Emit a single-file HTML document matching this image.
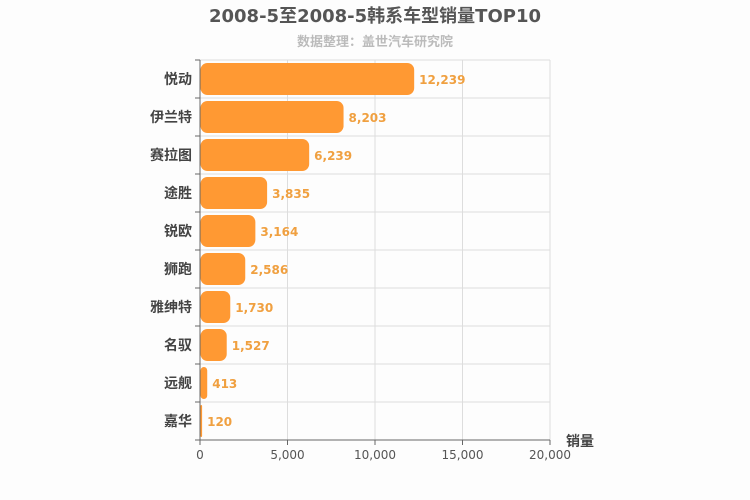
<!DOCTYPE html>
<html><head><meta charset="utf-8"><style>
body{margin:0;background:#fdfdfd;}
svg{display:block;font-family:"DejaVu Sans","Liberation Sans","Noto Sans CJK SC",sans-serif;}
</style></head><body>
<svg id="c" width="750" height="500">
<rect width="750" height="500" fill="#fdfdfd"/>
<text x="375" y="22" text-anchor="middle" font-size="18" font-weight="bold" fill="#555">2008-5至2008-5韩系车型销量TOP10</text>
<text x="375" y="46" text-anchor="middle" font-size="13" font-weight="bold" fill="#bbb">数据整理：盖世汽车研究院</text>
<text x="580" y="446" text-anchor="middle" font-size="14" font-weight="bold" fill="#444">销量</text>
</svg>
<script>
const categories=["悦动","伊兰特","赛拉图","途胜","锐欧","狮跑","雅绅特","名驭","远舰","嘉华"];
const values=[12239,8203,6239,3835,3164,2586,1730,1527,413,120];
const ticks=[0,5000,10000,15000,20000];
const svg=document.getElementById('c');const NS='http://www.w3.org/2000/svg';
const X0=200,X1=550,Y0=60,Y1=440,MAX=20000;
const x=v=>X0+(v/MAX)*(X1-X0);
const rowH=(Y1-Y0)/categories.length;
const y=i=>Y0+i*rowH;
function mk(t,a){const e=document.createElementNS(NS,t);for(const k in a)e.setAttribute(k,a[k]);svg.appendChild(e);return e;}
for(let i=0;i<=categories.length;i++){const g=mk('line',{x1:X0,x2:X1,y1:y(i),y2:y(i),stroke:'#ddd'});

}
ticks.forEach(t=>{if(t>0){const g=mk('line',{x1:x(t),x2:x(t),y1:Y0,y2:Y1,stroke:'#ddd'});

}
const tk=mk('line',{x1:x(t),x2:x(t),y1:Y1,y2:Y1+5,stroke:'#666'});


const l=mk('text',{x:x(t),y:Y1+19,'text-anchor':'middle','font-size':12,fill:'#555'});l.textContent=t.toLocaleString('en-US');

});
categories.forEach((c,i)=>{
const b=mk('rect',{x:X0+0.5,y:y(i)+3,width:Math.max(x(values[i])-X0-0.5,1.5),height:rowH-6,rx:Math.min(7,(x(values[i])-X0)/2),fill:'#ff9933'});


const v=mk('text',{x:x(values[i])+5,y:y(i)+rowH/2+5,'font-size':12,'font-weight':'bold',fill:'#f0a040'});v.textContent=values[i].toLocaleString('en-US');


const l=mk('text',{x:X0-8,y:y(i)+rowH/2+5,'text-anchor':'end','font-size':14,'font-weight':'bold',fill:'#444'});l.textContent=c;


const tk=mk('line',{x1:X0-5,x2:X0,y1:y(i),y2:y(i),stroke:'#666'});


});
const ya=mk('line',{x1:X0,x2:X0,y1:Y0,y2:Y1,stroke:'#666'});


const xa=mk('line',{x1:X0-5,x2:X1,y1:Y1,y2:Y1,stroke:'#666'});


</script>
</body></html>
